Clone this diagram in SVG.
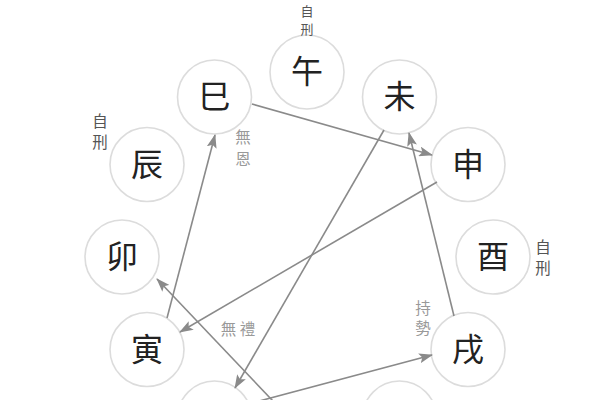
<svg xmlns="http://www.w3.org/2000/svg" width="600" height="400" viewBox="0 0 600 400">
<style>
.n circle{fill:#fff;stroke:#dcdcdc;stroke-width:1.6}
.n text{font-family:"Noto Sans CJK SC","Noto Sans CJK JP",sans-serif;font-size:32px;fill:#222;text-anchor:middle}
.lbl{font-family:"Noto Sans CJK SC","Noto Sans CJK JP",sans-serif;font-size:15.5px;text-anchor:middle}
.sm{font-size:13px}
.dk{fill:#555}
.lt{fill:#999}
.c line{stroke:#8a8a8a;stroke-width:1.6;marker-end:url(#ah)}
</style>
<defs>
<marker id="ah" markerUnits="userSpaceOnUse" markerWidth="14" markerHeight="10" refX="13" refY="5" orient="auto">
<path d="M0,0 L14,5 L0,10 L3,5 Z" fill="#8a8a8a"/>
</marker>
</defs>
<rect width="600" height="400" fill="#fff"/>
<g id="wu" class="n"><circle cx="307" cy="72" r="37"/><text x="307" y="83">午</text></g>
<g id="si" class="n"><circle cx="214.5" cy="97" r="37"/><text x="214.5" y="108">巳</text></g>
<g id="wei" class="n"><circle cx="399.5" cy="97" r="37"/><text x="399.5" y="108">未</text></g>
<g id="chen" class="n"><circle cx="147" cy="164.5" r="37"/><text x="147" y="175.5">辰</text></g>
<g id="shen" class="n"><circle cx="468" cy="164.5" r="37"/><text x="468" y="175.5">申</text></g>
<g id="mao" class="n"><circle cx="122" cy="257" r="37"/><text x="122" y="268">卯</text></g>
<g id="you" class="n"><circle cx="493" cy="257" r="37"/><text x="493" y="268">酉</text></g>
<g id="yin" class="n"><circle cx="147" cy="349.5" r="37"/><text x="147" y="360.5">寅</text></g>
<g id="xu" class="n"><circle cx="468" cy="349.5" r="37"/><text x="468" y="360.5">戌</text></g>
<g id="chou" class="n"><circle cx="214.5" cy="418" r="37"/></g>
<g id="hai" class="n"><circle cx="399.5" cy="418" r="37"/></g>
<g id="connectors" class="c">
<line x1="252" y1="104" x2="432" y2="155"/>
<line x1="167" y1="318" x2="215" y2="135"/>
<line x1="437" y1="182" x2="180" y2="332"/>
<line x1="384" y1="130" x2="235" y2="388"/>
<line x1="454" y1="316" x2="409" y2="133"/>
<line x1="248" y1="404" x2="432" y2="355"/>
<line x1="291" y1="420" x2="157" y2="279"/>
</g>
<g id="labels">
<text class="lbl sm dk" x="307" y="16">自</text><text class="lbl sm dk" x="307" y="34">刑</text>
<text class="lbl dk" x="100" y="127">自</text><text class="lbl dk" x="100" y="148">刑</text>
<text class="lbl lt" x="243" y="143">無</text><text class="lbl lt" x="243" y="165">恩</text>
<text class="lbl dk" x="543" y="253">自</text><text class="lbl dk" x="543" y="274">刑</text>
<text class="lbl lt" x="423" y="314">持</text><text class="lbl lt" x="423" y="334">勢</text>
<text class="lbl lt" x="238" y="335">無 禮</text>
</g>
</svg>
